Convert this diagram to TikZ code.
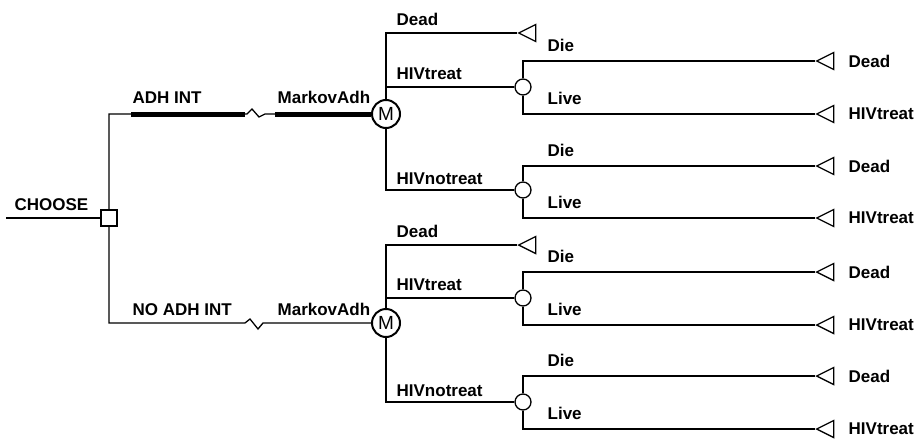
\documentclass[tikz,border=0pt]{standalone}
\usepackage{fontspec}
\setmainfont{Liberation Sans}
\usetikzlibrary{shapes.geometric}
\newcommand\lblfont{\bfseries\fontsize{17}{20}\selectfont}

\begin{document}
\begin{tikzpicture}[x=1pt, y=-1pt, line width=1.3pt,
    lbl/.style={anchor=base west, inner sep=0pt, font=\lblfont},
    endlbl/.style={anchor=west, inner sep=0pt, font=\lblfont},
    decision/.style={draw, rectangle, fill=white, minimum size=16pt, inner sep=0pt},
    markov/.style={draw, circle, fill=white, line width=2pt, minimum size=28pt, inner sep=0pt, font=\fontsize{19}{22}\selectfont},
    chance/.style={draw, circle, fill=white, minimum size=16pt, inner sep=0pt},
    terminal/.style={draw, isosceles triangle, shape border rotate=180, isosceles triangle stretches, minimum width=17pt, minimum height=17pt, inner sep=0pt, anchor=apex},
    bar/.style={line width=5pt}]
        \useasboundingbox (0,0) rectangle (917,439);

        \coordinate (start) at (6,218);
        \node[decision] (choose) at (109,218) {};
        \node[lbl] (lChoose) at (14,210) {CHOOSE};
        \draw (start) -- (choose);

        % ADH INT
        \node[markov] (mAdh) at (386,114) {M};
        \node[lbl] (lAdh) at (132,103) {ADH INT};
        \node[lbl] (lMarkovA) at (277,103) {MarkovAdh};
        \draw (choose) |- (247,114) -- ++(5,-5) -- ++(7,8) -- ++(6,-3) -- (mAdh);
        \draw[bar] (131,114) -- (245,114);
        \draw[bar] (275,114) -- (mAdh.west);

        \node[terminal] (tDeadA) at (517,33) {};
        \node[chance] (cTreatA) at (523,87) {};
        \node[chance] (cNoTreatA) at (523,190) {};
        \node[lbl] (lDeadA) at (396,25) {Dead};
        \node[lbl] (lTreatA) at (396,79) {HIVtreat};
        \node[lbl] (lNoTreatA) at (396,184) {HIVnotreat};
        \draw (mAdh) |- (tDeadA.apex);
        \draw (mAdh) |- (cTreatA);
        \draw (mAdh) |- (cNoTreatA);

        \node[terminal] (tDieA1) at (815,61) {};
        \node[terminal] (tLiveA1) at (815,114) {};
        \node[lbl] (lDieA1) at (547,51) {Die};
        \node[lbl] (lLiveA1) at (547,104) {Live};
        \node[endlbl] (eDieA1) at (848,61) {Dead};
        \node[endlbl] (eLiveA1) at (848,114) {HIVtreat};
        \draw (cTreatA) |- (tDieA1.apex);
        \draw (cTreatA) |- (tLiveA1.apex);

        \node[terminal] (tDieA2) at (815,166) {};
        \node[terminal] (tLiveA2) at (815,218) {};
        \node[lbl] (lDieA2) at (547,156) {Die};
        \node[lbl] (lLiveA2) at (547,208) {Live};
        \node[endlbl] (eDieA2) at (848,166) {Dead};
        \node[endlbl] (eLiveA2) at (848,218) {HIVtreat};
        \draw (cNoTreatA) |- (tDieA2.apex);
        \draw (cNoTreatA) |- (tLiveA2.apex);

        % NO ADH INT
        \node[markov] (mNoAdh) at (386,323) {M};
        \node[lbl] (lNoAdh) at (132,315) {NO ADH INT};
        \node[lbl] (lMarkovB) at (277,315) {MarkovAdh};
        \draw (choose) |- (245,323) -- ++(5,-4) -- ++(8,10) -- ++(5,-6) -- (mNoAdh);

        \node[terminal] (tDeadB) at (517,245) {};
        \node[chance] (cTreatB) at (523,298) {};
        \node[chance] (cNoTreatB) at (523,402) {};
        \node[lbl] (lDeadB) at (396,237) {Dead};
        \node[lbl] (lTreatB) at (396,290) {HIVtreat};
        \node[lbl] (lNoTreatB) at (396,396) {HIVnotreat};
        \draw (mNoAdh) |- (tDeadB.apex);
        \draw (mNoAdh) |- (cTreatB);
        \draw (mNoAdh) |- (cNoTreatB);

        \node[terminal] (tDieB1) at (815,272) {};
        \node[terminal] (tLiveB1) at (815,325) {};
        \node[lbl] (lDieB1) at (547,262) {Die};
        \node[lbl] (lLiveB1) at (547,315) {Live};
        \node[endlbl] (eDieB1) at (848,272) {Dead};
        \node[endlbl] (eLiveB1) at (848,325) {HIVtreat};
        \draw (cTreatB) |- (tDieB1.apex);
        \draw (cTreatB) |- (tLiveB1.apex);

        \node[terminal] (tDieB2) at (815,376) {};
        \node[terminal] (tLiveB2) at (815,429) {};
        \node[lbl] (lDieB2) at (547,366) {Die};
        \node[lbl] (lLiveB2) at (547,419) {Live};
        \node[endlbl] (eDieB2) at (848,376) {Dead};
        \node[endlbl] (eLiveB2) at (848,429) {HIVtreat};
        \draw (cNoTreatB) |- (tDieB2.apex);
        \draw (cNoTreatB) |- (tLiveB2.apex);
\end{tikzpicture}
\end{document}
